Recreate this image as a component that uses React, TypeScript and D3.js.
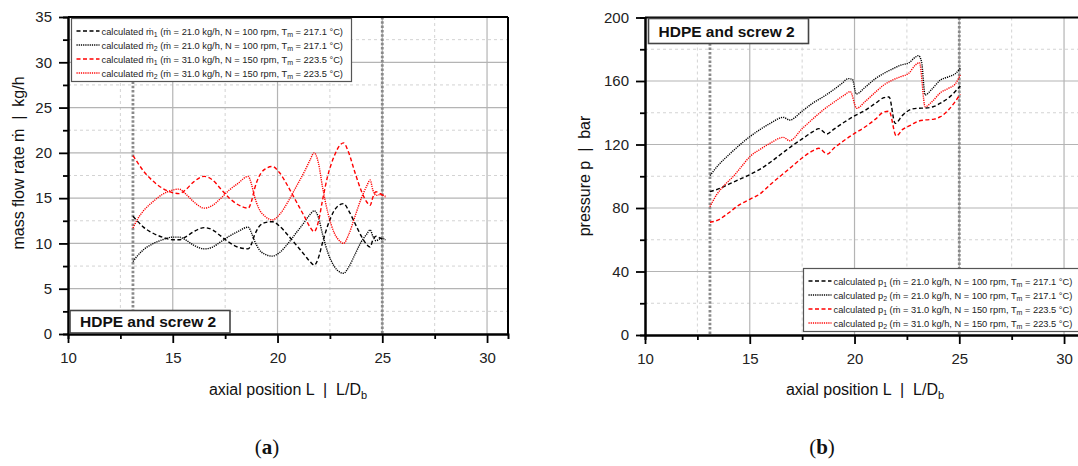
import React, { useEffect, useRef } from "react";
import * as d3 from "d3";

const W = 1078;
const H = 466;
const FONT = "'Liberation Sans', Arial, sans-serif";

// mass flow rate along the screw (panel a), kg/h
const flowL = [13.1, 13.3, 13.6, 14.0, 14.5, 15.0, 15.3, 15.6, 16.0, 16.5, 16.9, 17.3, 17.7, 18.1, 18.6, 18.75, 18.9, 19.1, 19.4, 19.75, 20.1, 20.5, 20.9, 21.3, 21.55, 21.75, 21.95, 22.15, 22.4, 22.7, 23.0, 23.15, 23.4, 23.7, 24.0, 24.25, 24.42, 24.55, 24.7, 24.9, 25.15];
const flowM1_21 = [13.0, 12.5, 11.8, 11.2, 10.7, 10.4, 10.4, 10.7, 11.3, 11.75, 11.5, 10.8, 10.1, 9.6, 9.4, 9.9, 10.9, 11.8, 12.3, 12.4, 11.9, 10.9, 9.8, 8.7, 8.0, 7.6, 8.4, 10.1, 12.0, 13.6, 14.3, 14.4, 13.6, 12.2, 10.8, 9.9, 9.6, 10.4, 10.8, 10.6, 10.4];
const flowM2_21 = [8.0, 8.6, 9.3, 9.9, 10.4, 10.7, 10.7, 10.4, 9.8, 9.4, 9.6, 10.2, 10.8, 11.3, 11.8, 11.2, 10.3, 9.4, 8.8, 8.6, 9.0, 10.0, 11.2, 12.4, 13.2, 13.6, 12.9, 11.0, 9.0, 7.5, 6.8, 6.7, 7.4, 8.8, 10.2, 11.0, 11.5, 10.8, 10.3, 10.5, 10.5];
const flowM1_31 = [19.7, 19.0, 18.0, 17.0, 16.1, 15.6, 15.5, 15.9, 16.8, 17.4, 17.0, 16.0, 15.0, 14.3, 13.9, 14.6, 16.0, 17.3, 18.2, 18.5, 17.8, 16.3, 14.6, 12.9, 11.8, 11.3, 12.4, 14.8, 17.5, 19.6, 20.9, 21.1, 20.0, 17.8, 15.8, 14.6, 14.2, 15.1, 15.7, 15.5, 15.1];
const flowM2_31 = [11.7, 12.6, 13.6, 14.5, 15.4, 15.9, 16.0, 15.5, 14.6, 13.9, 14.2, 15.0, 15.9, 16.6, 17.4, 16.6, 15.2, 13.9, 13.0, 12.6, 13.2, 14.6, 16.3, 18.0, 19.2, 20.0, 18.9, 16.2, 13.4, 11.2, 10.2, 10.0, 11.0, 13.0, 15.0, 16.3, 17.0, 15.9, 15.3, 15.4, 15.2];

// pressure along the screw (panel b), bar
const presP1_21_L = [13.1, 13.5, 14.0, 14.5, 15.0, 15.5, 16.0, 16.5, 17.0, 17.5, 18.0, 18.3, 18.68, 19.0, 19.5, 20.0, 20.5, 21.0, 21.4, 21.65, 21.94, 22.3, 22.7, 23.0, 23.4, 23.8, 24.1, 24.5, 25.05];
const presP1_21 = [90.3, 92, 95, 98, 101, 104.5, 109, 114, 119, 123.5, 128, 130, 126.6, 129.5, 134, 138, 141.5, 146, 149.5, 150, 133.3, 138.5, 142.2, 142.8, 143, 144, 146, 149.5, 156.9];
const presP2_21_L = [13.1, 13.5, 14.0, 14.5, 15.0, 15.5, 16.0, 16.6, 16.9, 17.5, 18.0, 18.5, 19.0, 19.4, 19.7, 19.9, 20.08, 20.5, 21.0, 21.4, 21.8, 22.2, 22.6, 22.9, 23.05, 23.2, 23.37, 23.7, 24.1, 24.5, 24.8, 25.05];
const presP2_21 = [100.4, 107, 113.5, 119.5, 124.9, 129.5, 133.5, 137.1, 135.4, 141, 146, 150, 154.5, 158.5, 161.5, 161, 151.8, 156, 161.5, 164.8, 167.5, 170, 171.5, 175, 176, 172, 151.2, 155, 160.6, 162.7, 164.5, 168];
const presP1_31_L = [13.1, 13.5, 14.0, 14.5, 15.0, 15.5, 16.0, 16.5, 17.0, 17.5, 18.0, 18.3, 18.7, 19.0, 19.5, 20.0, 20.5, 21.0, 21.4, 21.65, 21.99, 22.3, 22.7, 23.0, 23.4, 23.8, 24.1, 24.5, 25.05];
const presP1_31 = [71.0, 72.5, 77, 82, 85.5, 89, 95, 100.5, 106, 111.5, 116, 117.6, 114, 117.5, 122.5, 127, 131, 136, 140.5, 141, 125.4, 129.5, 132.3, 134.5, 135.5, 136, 137.5, 142, 151.8];
const presP2_31_L = [13.1, 13.4, 13.8, 14.2, 14.6, 15.0, 15.5, 16.0, 16.6, 16.9, 17.5, 18.0, 18.5, 19.0, 19.5, 19.8, 20.1, 20.5, 21.0, 21.4, 21.8, 22.2, 22.6, 22.9, 23.1, 23.37, 23.7, 24.1, 24.5, 24.8, 25.05];
const presP2_31 = [80.8, 88, 94.5, 99.7, 106, 112.3, 117, 121, 124.5, 122.4, 130, 136, 141.7, 146.5, 151, 153.3, 142.8, 147, 153, 157.5, 160.5, 162.7, 165, 170, 171.5, 143.8, 147, 152.6, 155.5, 158, 163.8];

// section limits (dotted grey verticals)
const sectionMarks = [13.1, 25.0];

const xMajor = [10, 15, 20, 25, 30];
const xMinor = [12.5, 17.5, 22.5, 27.5];

const legendFlow = [
  { sym: "ṁ", sub: "1", rate: "21.0", n: "100", t: "217.1", color: "#000", dash: "4,2.5" },
  { sym: "ṁ", sub: "2", rate: "21.0", n: "100", t: "217.1", color: "#000", dash: "1.2,1" },
  { sym: "ṁ", sub: "1", rate: "31.0", n: "150", t: "223.5", color: "#f00", dash: "4,2.5" },
  { sym: "ṁ", sub: "2", rate: "31.0", n: "150", t: "223.5", color: "#f00", dash: "1.2,1" },
];
const legendPres = legendFlow.map((d) => ({ ...d, sym: "p" }));

type Series = { L: number[]; v: number[]; color: string; dash: string };

type PanelCfg = {
  x0: number; x1: number; y0: number; y1: number;
  yMax: number; yMajor: number[]; yMinor: number[];
  series: Series[];
  yTitle: string; yTitleX: number; yTitleY: number;
  legend: typeof legendFlow; legendBox: [number, number, number, number];
  tagBox: [number, number, number, number];
  caption: string; captionX: number;
};

function drawPanel(svg: any, cfg: PanelCfg) {
  const x = d3.scaleLinear().domain([10, 31]).range([cfg.x0, cfg.x1]);
  const y = d3.scaleLinear().domain([0, cfg.yMax]).range([cfg.y1, cfg.y0]);
  const g = svg.append("g");

  // minor grid
  g.selectAll(".gxm").data(xMinor).enter().append("line")
    .attr("x1", (d: number) => x(d)).attr("x2", (d: number) => x(d))
    .attr("y1", cfg.y0).attr("y2", cfg.y1)
    .attr("stroke", "#d3d3d3").attr("stroke-dasharray", "3,3");
  g.selectAll(".gym").data(cfg.yMinor).enter().append("line")
    .attr("x1", cfg.x0).attr("x2", cfg.x1)
    .attr("y1", (d: number) => y(d)).attr("y2", (d: number) => y(d))
    .attr("stroke", "#d3d3d3").attr("stroke-dasharray", "3,3");
  // major grid
  g.selectAll(".gx").data(xMajor.slice(1)).enter().append("line")
    .attr("x1", (d: number) => x(d)).attr("x2", (d: number) => x(d))
    .attr("y1", cfg.y0).attr("y2", cfg.y1)
    .attr("stroke", "#b4b4b4").attr("stroke-width", 1.2);
  g.selectAll(".gy").data(cfg.yMajor.slice(1)).enter().append("line")
    .attr("x1", cfg.x0).attr("x2", cfg.x1)
    .attr("y1", (d: number) => y(d)).attr("y2", (d: number) => y(d))
    .attr("stroke", "#b4b4b4").attr("stroke-width", 1.2);

  // section marks
  g.selectAll(".sec").data(sectionMarks).enter().append("line")
    .attr("x1", (d: number) => x(d)).attr("x2", (d: number) => x(d))
    .attr("y1", cfg.y0).attr("y2", cfg.y1)
    .attr("stroke", "#8a8a8a").attr("stroke-width", 2.8).attr("stroke-dasharray", "2.5,1.8");

  // curves
  const line = d3.line<[number, number]>()
    .x((d) => x(d[0]))
    .y((d) => y(d[1]))
    .curve(d3.curveMonotoneX);
  cfg.series.forEach((s) => {
    const pts = s.L.map((l, i) => [l, s.v[i]] as [number, number]);
    g.append("path")
      .attr("d", line(pts))
      .attr("fill", "none")
      .attr("stroke", s.color)
      .attr("stroke-width", 1.4)
      .attr("stroke-dasharray", s.dash);
  });

  // axes
  const styleAxis = (sel: any) => {
    sel.select(".domain").attr("stroke", "#000").attr("stroke-width", 2);
    sel.selectAll(".tick line").attr("stroke", "#000").attr("stroke-width", 1.8);
    sel.selectAll("text").attr("font-family", FONT).attr("font-size", 15).attr("fill", "#222");
  };
  g.append("g")
    .attr("transform", "translate(0," + cfg.y1 + ")")
    .call(d3.axisBottom(x).tickValues(xMinor).tickSize(5).tickFormat(() => ""))
    .call(styleAxis);
  g.append("g")
    .attr("transform", "translate(0," + cfg.y1 + ")")
    .call(d3.axisBottom(x).tickValues(xMajor).tickSize(9).tickSizeOuter(0).tickPadding(9).tickFormat(d3.format("d")))
    .call(styleAxis);
  g.append("g")
    .attr("transform", "translate(" + cfg.x0 + ",0)")
    .call(d3.axisLeft(y).tickValues(cfg.yMinor).tickSize(5).tickFormat(() => ""))
    .call(styleAxis);
  g.append("g")
    .attr("transform", "translate(" + cfg.x0 + ",0)")
    .call(d3.axisLeft(y).tickValues(cfg.yMajor).tickSize(9).tickSizeOuter(0).tickPadding(7).tickFormat(d3.format("d")))
    .call(styleAxis);

  // frame top / right
  g.append("line").attr("x1", cfg.x0).attr("x2", cfg.x1).attr("y1", cfg.y0).attr("y2", cfg.y0)
    .attr("stroke", "#000").attr("stroke-width", 2);
  g.append("line").attr("x1", cfg.x1).attr("x2", cfg.x1).attr("y1", cfg.y0).attr("y2", cfg.y1)
    .attr("stroke", "#000").attr("stroke-width", 2);

  // axis titles
  const xt = g.append("text")
    .attr("x", (cfg.x0 + cfg.x1) / 2).attr("y", 395)
    .attr("text-anchor", "middle")
    .attr("font-family", FONT).attr("font-size", 16).attr("fill", "#111")
    .attr("xml:space", "preserve");
  xt.append("tspan").text("axial position L  |  L/D");
  xt.append("tspan").attr("font-size", 11).attr("dy", 4).text("b");

  g.append("text")
    .attr("transform", "translate(" + cfg.yTitleX + "," + cfg.yTitleY + ") rotate(-90)")
    .attr("text-anchor", "middle")
    .attr("font-family", FONT).attr("font-size", 16).attr("fill", "#111")
    .attr("xml:space", "preserve")
    .text(cfg.yTitle);

  // legend
  const [lx, ly, lw, lh] = cfg.legendBox;
  g.append("rect").attr("x", lx).attr("y", ly).attr("width", lw).attr("height", lh)
    .attr("fill", "#fff").attr("stroke", "#555").attr("stroke-width", 1.2);
  cfg.legend.forEach((d, i) => {
    const cy = ly + 12.5 + i * 14;
    g.append("line").attr("x1", lx + 5).attr("x2", lx + 28).attr("y1", cy).attr("y2", cy)
      .attr("stroke", d.color).attr("stroke-width", 1.4).attr("stroke-dasharray", d.dash);
    const t = g.append("text").attr("x", lx + 30).attr("y", cy + 3.5)
      .attr("font-family", FONT).attr("font-size", 9.3).attr("fill", "#222");
    t.append("tspan").text("calculated " + d.sym);
    t.append("tspan").attr("font-size", 7).attr("dy", 2.5).text(d.sub);
    t.append("tspan").attr("dy", -2.5).text(" (ṁ = " + d.rate + " kg/h, N = " + d.n + " rpm, T");
    t.append("tspan").attr("font-size", 7).attr("dy", 2.5).text("m");
    t.append("tspan").attr("dy", -2.5).text(" = " + d.t + " °C)");
  });

  // material tag
  const [tx, ty, tw, th] = cfg.tagBox;
  g.append("rect").attr("x", tx).attr("y", ty).attr("width", tw).attr("height", th)
    .attr("fill", "#fff").attr("stroke", "#444").attr("stroke-width", 1.6);
  g.append("text").attr("x", tx + 10).attr("y", ty + th / 2 + 5.5)
    .attr("font-family", FONT).attr("font-size", 15.5).attr("font-weight", "bold").attr("fill", "#111")
    .text("HDPE and screw 2");

  // caption
  const c = g.append("text").attr("x", cfg.captionX).attr("y", 454)
    .attr("text-anchor", "middle")
    .attr("font-family", "'Liberation Serif', 'DejaVu Serif', serif").attr("font-size", 21).attr("fill", "#111");
  c.append("tspan").text("(");
  c.append("tspan").attr("font-weight", "bold").text(cfg.caption);
  c.append("tspan").text(")");
}

export default function App() {
  const ref = useRef<SVGSVGElement>(null);

  useEffect(() => {
    const svg = d3.select(ref.current);
    svg.selectAll("*").remove();
    svg.append("rect").attr("width", W).attr("height", H).attr("fill", "#fff");

    drawPanel(svg, {
      x0: 68, x1: 508, y0: 17, y1: 334,
      yMax: 35,
      yMajor: [0, 5, 10, 15, 20, 25, 30, 35],
      yMinor: [2.5, 7.5, 12.5, 17.5, 22.5, 27.5, 32.5],
      series: [
        { L: flowL, v: flowM1_21, color: "#000", dash: "4,2.5" },
        { L: flowL, v: flowM2_21, color: "#000", dash: "1.2,1" },
        { L: flowL, v: flowM1_31, color: "#f00", dash: "4,2.5" },
        { L: flowL, v: flowM2_31, color: "#f00", dash: "1.2,1" },
      ],
      yTitle: "mass flow rate ṁ  |  kg/h", yTitleX: 24, yTitleY: 163,
      legend: legendFlow, legendBox: [71.5, 18.5, 280, 63],
      tagBox: [70, 310.5, 160, 22.5],
      caption: "a", captionX: 267,
    });

    drawPanel(svg, {
      x0: 645, x1: 1085, y0: 17.5, y1: 335,
      yMax: 200,
      yMajor: [0, 40, 80, 120, 160, 200],
      yMinor: [20, 60, 100, 140, 180],
      series: [
        { L: presP1_21_L, v: presP1_21, color: "#000", dash: "4,2.5" },
        { L: presP2_21_L, v: presP2_21, color: "#000", dash: "1.2,1" },
        { L: presP1_31_L, v: presP1_31, color: "#f00", dash: "4,2.5" },
        { L: presP2_31_L, v: presP2_31, color: "#f00", dash: "1.2,1" },
      ],
      yTitle: "pressure p  |  bar", yTitleX: 590, yTitleY: 176,
      legend: legendPres, legendBox: [803.5, 268.5, 290, 63],
      tagBox: [648.5, 18.5, 160, 25],
      caption: "b", captionX: 822,
    });
  }, []);

  return (
    <svg
      ref={ref}
      width={W}
      height={H}
      style={{ position: "absolute", left: 0, top: 0 }}
    />
  );
}
